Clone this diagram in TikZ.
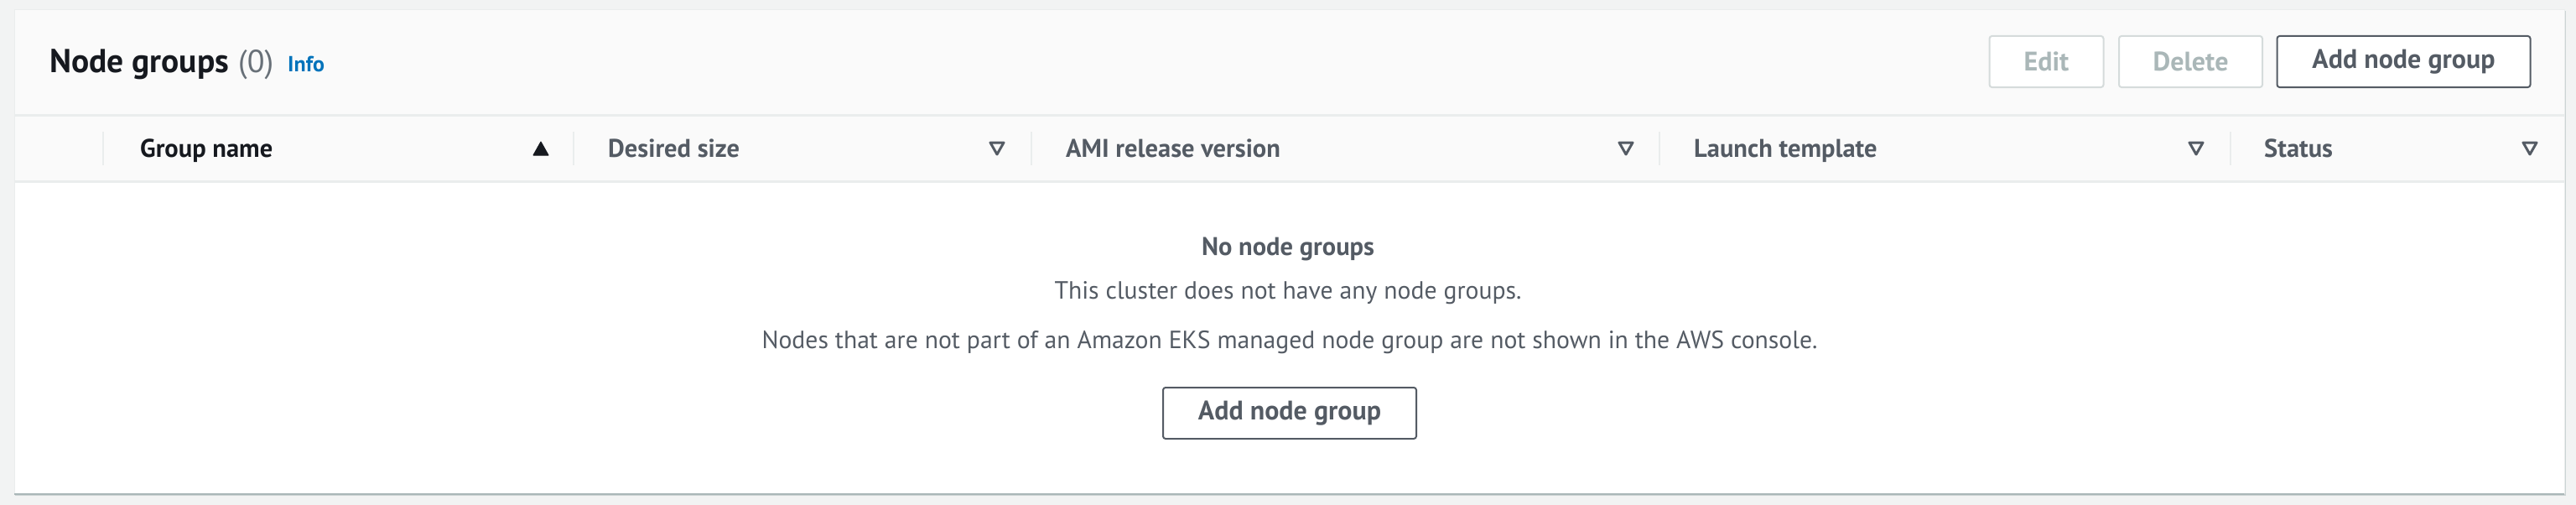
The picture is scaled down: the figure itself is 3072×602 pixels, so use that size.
\documentclass[tikz,border=0pt]{standalone}
\usepackage{fontspec}
\setmainfont{PT Sans}
\definecolor{pagebg}{HTML}{F2F3F3}
\definecolor{hdrbg}{HTML}{FAFAFA}
\definecolor{sepline}{HTML}{EAEDED}
\definecolor{shadowline}{HTML}{AAB7B8}
\definecolor{ink}{HTML}{16191F}
\definecolor{greytext}{HTML}{545B64}
\definecolor{counttext}{HTML}{687078}
\definecolor{infoblue}{HTML}{0073BB}
\definecolor{disborder}{HTML}{D5DBDB}
\definecolor{distext}{HTML}{AAB7B8}
\tikzset{
  fs/.style={font=\fontsize{#1}{#1}\selectfont},
  fsb/.style={font=\bfseries\fontsize{#1}{#1}\selectfont},
  btnbase/.style={rectangle, rounded corners=3pt, line width=2pt, inner sep=0pt, minimum height=61pt, fsb=32},
  btndis/.style={btnbase, draw=disborder, fill=white, text=distext},
  btnnorm/.style={btnbase, draw=greytext, fill=white, text=greytext},
  colhead/.style={anchor=base west, fsb=30.5, text=greytext},
  coldiv/.style={draw=sepline, line width=2pt},
  sortup/.style={fill=ink, draw=ink, line width=1pt, line join=round},
  sortdown/.style={draw=greytext, line width=3pt, line join=round},
  bodytext/.style={anchor=base, fs=29.7, text=greytext}
}
\begin{document}
\begin{tikzpicture}[x=1pt,y=-1pt]
\useasboundingbox (0,0) rectangle (3072,602);
\fill[pagebg] (0,0) rectangle (3072,602);
% panel with shadow
\fill[shadowline!60] (18,13) rectangle (3060,591);
\fill[white] (17,12) rectangle (3058,588);
\fill[hdrbg] (17,12) rectangle (3058,216);
\draw[sepline, line width=1pt] (17,12) rectangle (3058,588);
\draw[sepline, line width=3pt] (17,137) -- (3058,137);
\draw[sepline, line width=3pt] (17,216) -- (3058,216);
\draw[shadowline, line width=2pt] (17,589) -- (3058,589);

% title
\node[anchor=base west, fsb=39.5, text=ink, inner sep=0pt] (title) at (59,86) {Node groups};
\node[anchor=base west, fs=38, text=counttext, inner sep=0pt] (count) at (284,86) {(0)};
\node[anchor=base west, fsb=26, text=infoblue, inner sep=0pt] (info) at (343,85) {Info};

% buttons
\node[btndis, minimum width=136pt] (edit) at (2440.5,73.5) {Edit};
\node[btndis, minimum width=171pt] (delete) at (2612.5,73.5) {Delete};
\node[btnnorm, minimum width=302pt] (addtop) at (2866.5,73.5) {Add node group};

% column dividers
\foreach \xx in {123,684,1230,1979,2660} \draw[coldiv] (\xx,157) -- (\xx,197);

% column headers
\node[colhead, text=ink, inner sep=0pt] (cgroup) at (167,187) {Group name};
\node[colhead, inner sep=0pt] (cdesired) at (725,187) {Desired size};
\node[colhead, inner sep=0pt] (cami) at (1271,187) {AMI release version};
\node[colhead, inner sep=0pt] (claunch) at (2020,187) {Launch template};
\node[colhead, inner sep=0pt] (cstatus) at (2700,187) {Status};

% sort icons
\filldraw[sortup] (636,185) -- (654,185) -- (645,169) -- cycle;
\foreach \xx in {1189,1939,2619,3017}
  \draw[sortdown] (\xx-8,170) -- (\xx+8,170) -- (\xx,184) -- cycle;

% body
\node[bodytext, fsb=30.5, inner sep=0pt] (empty) at (1536,304) {No node groups};
\node[bodytext, inner sep=0pt] (msg) at (1536,356) {This cluster does not have any node groups.};
\node[bodytext, inner sep=0pt] (note) at (1538,415) {Nodes that are not part of an Amazon EKS managed node group are not shown in the AWS console.};
\node[btnnorm, minimum width=302pt] (addbody) at (1538,492.5) {Add node group};
\end{tikzpicture}
\end{document}
